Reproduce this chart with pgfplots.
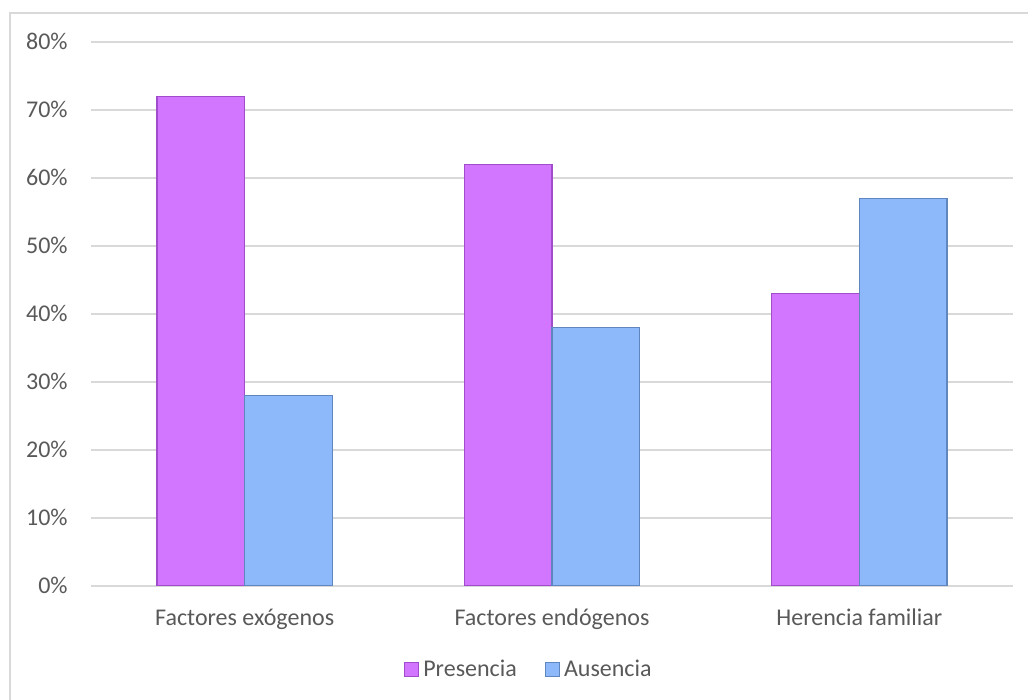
\documentclass[border=0pt]{standalone}
\usepackage{fontspec}
\setmainfont{Carlito}
\usepackage{pgfplots}
\pgfplotsset{compat=1.18}
\definecolor{pres}{HTML}{D376FF}
\definecolor{presedge}{HTML}{A04CCB}
\definecolor{aus}{HTML}{8DB9FA}
\definecolor{ausedge}{HTML}{5F86BF}
\definecolor{txtc}{HTML}{595959}
\definecolor{gridc}{HTML}{D9D9D9}
\begin{document}
\begin{tikzpicture}[x=1pt,y=1pt]
\useasboundingbox (0,0) rectangle (514,350);
\draw[gridc, line width=1pt] (5,0) -- (5,343.5) -- (514,343.5);
\begin{axis}[
  at={(45.5pt,57pt)}, anchor=south west,
  scale only axis, width=461pt, height=272pt,
  xmin=-0.5, xmax=2.5, ymin=0, ymax=80,
  ytick={0,10,20,30,40,50,60,70,80},
  yticklabels={0\%,10\%,20\%,30\%,40\%,50\%,60\%,70\%,80\%},
  xtick={0,1,2},
  xticklabels={Factores exógenos,Factores endógenos,Herencia familiar},
  major tick length=0pt,
  axis line style={draw=none},
  ymajorgrids,
  grid style={gridc, line width=0.75pt},
  ybar, bar width=0.285,
  font=\fontsize{12}{14}\selectfont,
  yticklabel style={anchor=base east, inner sep=0pt, xshift=-11.5pt, yshift=-3.9pt, text=txtc},
  xticklabel style={anchor=base, inner sep=0pt, yshift=-20pt, text=txtc},
  legend style={at={(0.476,-0.154)}, anchor=center, draw=none, fill=none,
    legend columns=2, font=\fontsize{12}{14}\selectfont, text=txtc,
    /tikz/every even column/.append style={column sep=12pt},
    /tikz/every odd column/.append style={column sep=0pt}},
  legend cell align=left,
  legend image code/.code={\draw[#1] (0pt,-3.5pt) rectangle (7pt,3.5pt);},
]
\addplot[fill=pres, draw=presedge, line width=0.6pt, bar shift=-0.1425] coordinates {(0,72) (1,62) (2,43)};
\addplot[fill=aus, draw=ausedge, line width=0.6pt, bar shift=0.1425] coordinates {(0,28) (1,38) (2,57)};
\legend{Presencia,Ausencia}
\end{axis}
\end{tikzpicture}
\end{document}
